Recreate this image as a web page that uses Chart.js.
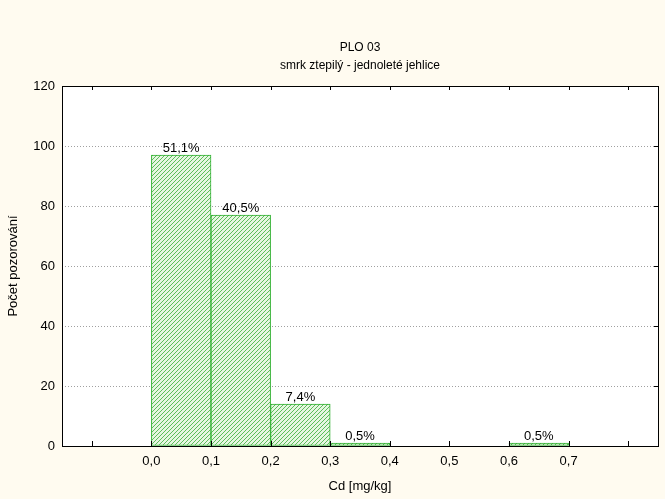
<!DOCTYPE html>
<html>
<head>
<meta charset="utf-8">
<script src="https://cdn.jsdelivr.net/npm/chart.js@4"></script>
<style>
    html, body { margin: 0; padding: 0; background: #fffbf0; }
    #wrap { width: 665px; height: 499px; }
</style>
</head>
<body>
<div id="wrap"><canvas id="histChart" width="665" height="499"></canvas></div>
<script>
// Histogram data
const binCenters = [0.05, 0.15, 0.25, 0.35, 0.65];
const binCounts = [97, 77, 14, 1, 1];
const pctLabels = ['51,1%', '40,5%', '7,4%', '0,5%', '0,5%'];
const xTickValues = [-0.1, 0.0, 0.1, 0.2, 0.3, 0.4, 0.5, 0.6, 0.7, 0.8];
const yTickValues = [0, 20, 40, 60, 80, 100, 120];

const FONT = 'Liberation Sans, Arial, sans-serif';

// diagonal hatch pattern for the bars
function makeHatch() {
    const c = document.createElement('canvas');
    c.width = 4; c.height = 4;
    const g = c.getContext('2d');
    g.fillStyle = '#e6f6e1';
    g.fillRect(0, 0, 4, 4);
    g.strokeStyle = '#5cbd5a';
    g.lineWidth = 1;
    g.beginPath();
    g.moveTo(0, 4); g.lineTo(4, 0);
    g.moveTo(-1, 1); g.lineTo(1, -1);
    g.moveTo(3, 5); g.lineTo(5, 3);
    g.stroke();
    return g.createPattern(c, 'repeat');
}

// titles, frame, inward tick marks, percent labels
const decorPlugin = {
    id: 'decor',
    beforeDraw(chart) {
        const ctx = chart.ctx;
        ctx.save();
        ctx.fillStyle = '#fffbf0';
        ctx.fillRect(0, 0, chart.width, chart.height);
        const a = chart.chartArea;
        ctx.fillStyle = '#ffffff';
        ctx.fillRect(a.left, a.top, a.right - a.left, a.bottom - a.top);
        ctx.restore();
    },
    afterDraw(chart) {
        const ctx = chart.ctx;
        const a = chart.chartArea;
        const xs = chart.scales.x, ys = chart.scales.y;
        ctx.save();
        // titles
        ctx.fillStyle = '#000';
        ctx.font = '12px ' + FONT;
        ctx.textAlign = 'center';
        ctx.textBaseline = 'middle';
        const cx = (a.left + a.right) / 2;
        ctx.fillText('PLO 03', cx, 48);
        ctx.fillText('smrk ztepilý - jednoleté jehlice', cx, 66);

        // frame
        ctx.strokeStyle = '#000';
        ctx.lineWidth = 1;
        ctx.strokeRect(Math.round(a.left) + 0.5, Math.round(a.top) + 0.5,
            Math.round(a.right - a.left), Math.round(a.bottom - a.top));

        // inward ticks
        ctx.beginPath();
        xTickValues.forEach(v => {
            const px = Math.round(xs.getPixelForValue(v)) + 0.5;
            ctx.moveTo(px, a.bottom); ctx.lineTo(px, a.bottom - 5);
            ctx.moveTo(px, a.top); ctx.lineTo(px, a.top + 4);
        });
        yTickValues.slice(1, -1).forEach(v => {
            const py = Math.round(ys.getPixelForValue(v)) + 0.5;
            ctx.moveTo(a.right, py); ctx.lineTo(a.right - 4, py);
        });
        ctx.stroke();

        // percent labels above the bars
        const meta = chart.getDatasetMeta(0);
        ctx.font = '13px ' + FONT;
        ctx.textBaseline = 'alphabetic';
        meta.data.forEach((bar, i) => {
            ctx.fillText(pctLabels[i], bar.x, bar.y - 3);
        });
        ctx.restore();
    }
};

const ctx = document.getElementById('histChart').getContext('2d');
const histChart = new Chart(ctx, {
    type: 'bar',
    data: {
        datasets: [{
            data: binCenters.map((x, i) => ({ x: x, y: binCounts[i] })),
            backgroundColor: makeHatch(),
            borderColor: '#2fb02f',
            borderWidth: 1,
            borderSkipped: false,
            barPercentage: 1,
            categoryPercentage: 1
        }]
    },
    options: {
        responsive: false,
        animation: false,
        layout: { padding: { top: 86, left: 0, right: 7, bottom: 0 } },
        plugins: {
            legend: { display: false },
            tooltip: { enabled: false }
        },
        scales: {
            x: {
                type: 'linear',
                offset: false,
                min: -0.15,
                max: 0.85,
                afterBuildTicks: scale => { scale.ticks = xTickValues.map(v => ({ value: v })); },
                afterFit: scale => { scale.height = 53; },
                grid: { display: false, drawTicks: false, offset: false },
                border: { display: false },
                ticks: {
                    padding: 8,
                    color: '#000',
                    font: { family: FONT, size: 13 },
                    maxRotation: 0,
                    autoSkip: false,
                    callback: v => (v > -0.01 && v < 0.71) ? v.toFixed(1).replace('.', ',') : ''
                },
                title: {
                    display: true,
                    text: 'Cd [mg/kg]',
                    color: '#000',
                    font: { family: FONT, size: 13 },
                    padding: { top: 0, bottom: 5 }
                }
            },
            y: {
                min: 0,
                max: 120,
                afterBuildTicks: scale => { scale.ticks = yTickValues.map(v => ({ value: v })); },
                afterFit: scale => { scale.width = 62; },
                grid: {
                    drawTicks: false,
                    color: c => (c.tick && (c.tick.value === 0 || c.tick.value === 120)) ? 'rgba(0,0,0,0)' : '#a0a0a0'
                },
                border: { display: false, dash: [1, 2] },
                ticks: {
                    padding: 7,
                    color: '#000',
                    font: { family: FONT, size: 13 }
                },
                title: {
                    display: true,
                    text: 'Počet pozorování',
                    color: '#000',
                    font: { family: FONT, size: 13 },
                    padding: { top: 6, bottom: 0 }
                }
            }
        }
    },
    plugins: [decorPlugin]
});
</script>
</body>
</html>
